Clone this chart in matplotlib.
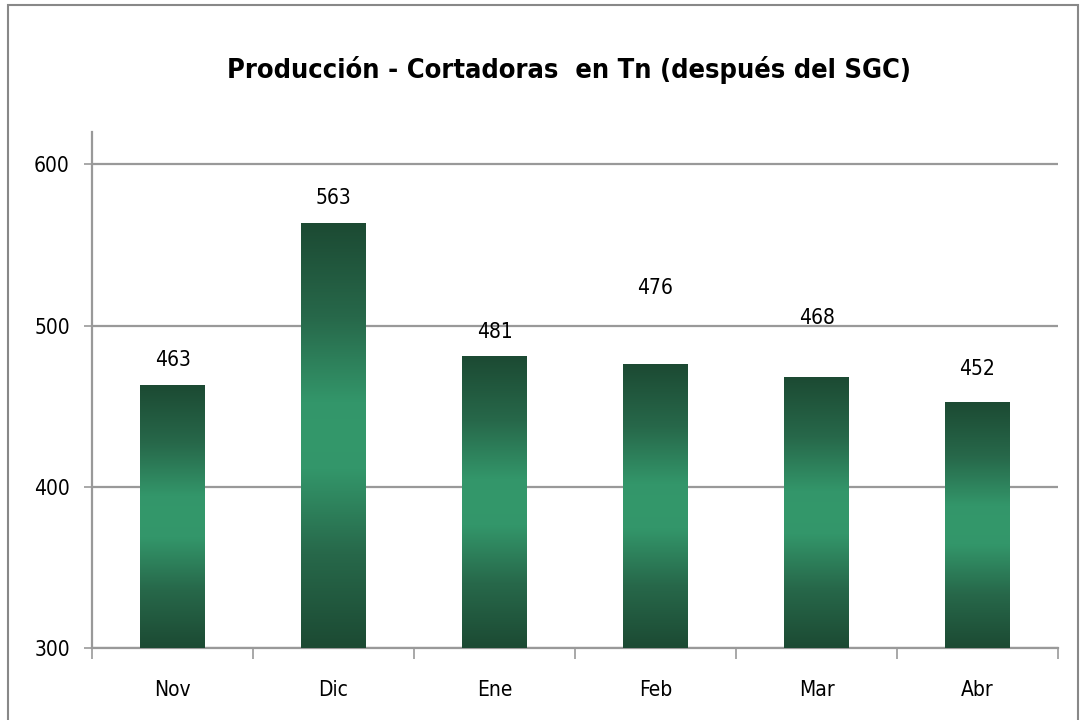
import matplotlib
matplotlib.use("Agg")
import matplotlib.pyplot as plt
import numpy as np
from matplotlib.colors import LinearSegmentedColormap
from matplotlib.patches import Rectangle

categories = ["Nov", "Dic", "Ene", "Feb", "Mar", "Abr"]
values = [463, 563, 481, 476, 468, 452]
y_ticks = [300, 400, 500, 600]
title = "Producción - Cortadoras  en Tn (después del SGC)"

# label offsets above bar tops (pixels), as placed in the reference
label_offsets_px = [25, 26, 24, 76, 59, 34]

plt.rcParams['font.family'] = ['DejaVu Sans']
plt.rcParams['font.stretch'] = 'condensed'

W, H, DPI = 1082, 720, 100
fig = plt.figure(figsize=(W / DPI, H / DPI), dpi=DPI)
ax = fig.add_axes([92 / W, 1 - 648 / H, (1058 - 92) / W, (648 - 132) / H])

ymin, ymax = 300, 620
cmap = LinearSegmentedColormap.from_list(
    "g", [(0.0, "#1c4a33"), (0.22, "#27684a"), (0.42, "#33966a"), (0.5, "#34986b"),
          (0.58, "#33966a"), (0.78, "#27684a"), (1.0, "#1c4a33")])
grad = np.linspace(0, 1, 256).reshape(-1, 1)

bar_w = 0.4
x = np.arange(len(categories))
bars = ax.bar(x, values, width=bar_w, bottom=0, color="none", zorder=3)
for b, v in zip(bars, values):
    x0 = b.get_x()
    ax.imshow(grad, cmap=cmap, aspect="auto", extent=[x0, x0 + bar_w, ymin, v],
              origin="lower", zorder=3, interpolation="bilinear")
ax.set_xlim(-0.5, len(categories) - 0.5)
ax.set_ylim(ymin, ymax)

for xi, v, off in zip(x, values, label_offsets_px):
    ax.annotate(str(v), (xi, v), xytext=(0, off), textcoords="offset pixels",
                ha="center", va="center", fontsize=15, color="black", zorder=5)

ax.set_yticks(y_ticks)
ax.set_yticklabels([str(t) for t in y_ticks], fontsize=15)
ax.yaxis.grid(True, color="#999999", linewidth=1.6, zorder=0)
ax.set_axisbelow(True)
ax.tick_params(axis="y", length=6, width=1.2, color="#999999", pad=10)

ax.set_xticks(x)
ax.set_xticklabels(categories, fontsize=15)
ax.set_xticks(np.arange(-0.5, len(categories)), minor=True)
ax.tick_params(axis="x", which="major", length=0, pad=23)
ax.tick_params(axis="x", which="minor", length=8, width=1.2, color="#999999")

for s in ["top", "right"]:
    ax.spines[s].set_visible(False)
ax.spines["left"].set_color("#999999")
ax.spines["left"].set_linewidth(1.6)
ax.spines["bottom"].set_color("#999999")
ax.spines["bottom"].set_linewidth(1.6)

fig.text(569 / W, 1 - 70 / H, title, ha="center", va="center",
         fontsize=19.5, fontweight="bold")

fig.patches.append(Rectangle((8 / W, -0.01), (1078 - 8) / W, 1 - 5 / H + 0.01,
                             transform=fig.transFigure, fill=False,
                             edgecolor="#888888", linewidth=1.5))

fig.savefig("out.png", dpi=DPI)
